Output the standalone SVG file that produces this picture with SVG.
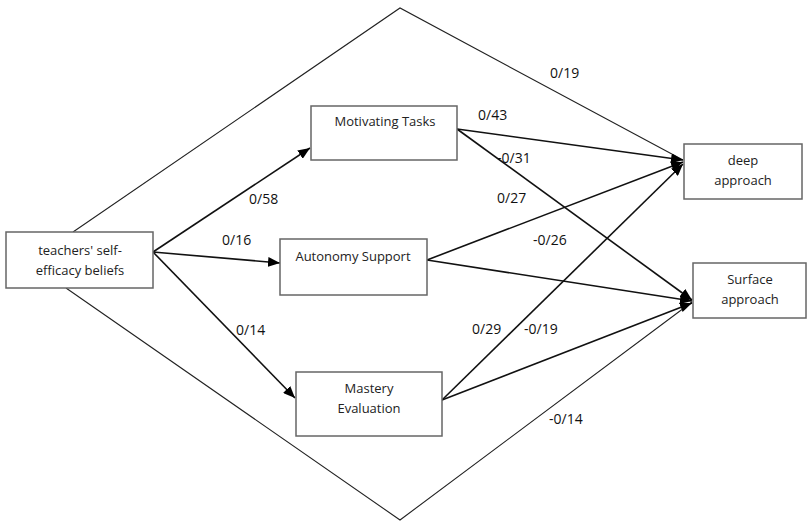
<svg xmlns="http://www.w3.org/2000/svg" width="807" height="523" viewBox="0 0 807 523">
<style>
.box{fill:#fff;stroke:#666;stroke-width:1.5}
.t{font-family:"Open Sans","Liberation Sans",sans-serif;font-size:13px;fill:#222;text-anchor:middle}
.l{font-family:"Open Sans","Liberation Sans",sans-serif;font-size:14px;fill:#111}
.e{stroke:#111;stroke-width:1.6;fill:none;marker-end:url(#ah)}
.d{stroke:#222;stroke-width:1.1;fill:none}
</style>
<defs>
<marker id="ah" viewBox="0 0 12 10" refX="12" refY="5" markerWidth="12" markerHeight="10" markerUnits="userSpaceOnUse" orient="auto">
<path d="M0,0 L12,5 L0,10 z" fill="#000"/>
</marker>
</defs>
<rect width="807" height="523" fill="#fff"/>
<g id="connectors">
<path class="d" d="M73,232 L400,8 L683,160"/>
<path class="d" d="M66,288 L400,520 L692,302"/>
<line class="e" x1="153" y1="252" x2="310" y2="148"/>
<line class="e" x1="153" y1="252" x2="280" y2="263"/>
<line class="e" x1="153" y1="252" x2="295" y2="398"/>
<line class="e" x1="457" y1="129" x2="683" y2="160"/>
<line class="e" x1="457" y1="129" x2="692" y2="300"/>
<line class="e" x1="427" y1="260" x2="683" y2="162"/>
<line class="e" x1="427" y1="260" x2="692" y2="301"/>
<line class="e" x1="442" y1="400" x2="683" y2="164"/>
<line class="e" x1="442" y1="400" x2="692" y2="303"/>
</g>
<g id="teachers">
<rect class="box" x="6" y="232" width="147" height="56"/>
<text class="t" x="80" y="255">teachers' self-</text>
<text class="t" x="80" y="275">efficacy beliefs</text>
</g>
<g id="motivating">
<rect class="box" x="311" y="106" width="146" height="54"/>
<text class="t" x="385" y="126">Motivating Tasks</text>
</g>
<g id="autonomy">
<rect class="box" x="280" y="239" width="147" height="56"/>
<text class="t" x="353" y="261">Autonomy Support</text>
</g>
<g id="mastery">
<rect class="box" x="296" y="372" width="146" height="64"/>
<text class="t" x="369" y="393">Mastery</text>
<text class="t" x="369" y="413">Evaluation</text>
</g>
<g id="deep">
<rect class="box" x="684" y="144" width="118" height="55"/>
<text class="t" x="743" y="165">deep</text>
<text class="t" x="743" y="185">approach</text>
</g>
<g id="surface">
<rect class="box" x="693" y="263" width="113" height="55"/>
<text class="t" x="750" y="284">Surface</text>
<text class="t" x="750" y="304">approach</text>
</g>
<g id="labels">
<text class="l" x="550" y="78">0/19</text>
<text class="l" x="478" y="120">0/43</text>
<text class="l" x="497" y="163">-0/31</text>
<text class="l" x="249" y="204">0/58</text>
<text class="l" x="497" y="203">0/27</text>
<text class="l" x="222" y="245">0/16</text>
<text class="l" x="533" y="245">-0/26</text>
<text class="l" x="236" y="335">0/14</text>
<text class="l" x="472" y="334">0/29</text>
<text class="l" x="524" y="334">-0/19</text>
<text class="l" x="549" y="424">-0/14</text>
</g>
</svg>
